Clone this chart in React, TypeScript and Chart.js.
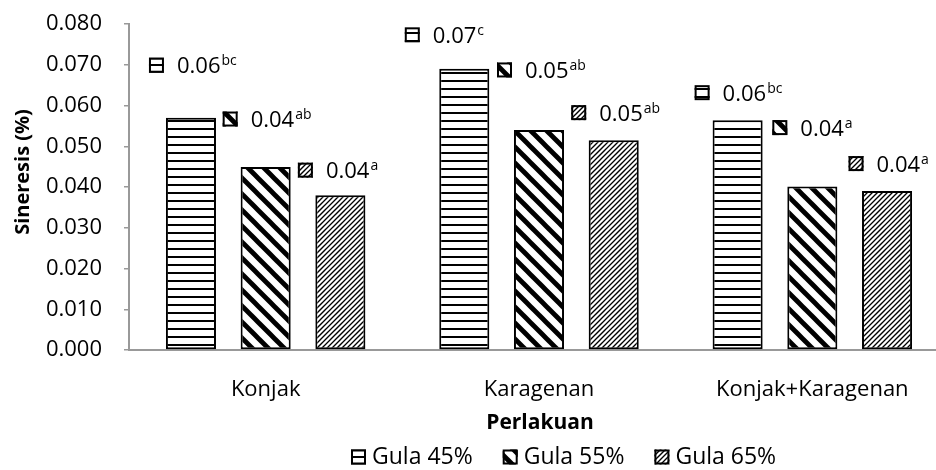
import React, { useEffect, useRef } from 'react';
import { Chart, registerables } from 'chart.js';

Chart.register(...registerables);

// ---- data ----
const categories = ['Konjak', 'Karagenan', 'Konjak+Karagenan'];
const seriesNames = ['Gula 45%', 'Gula 55%', 'Gula 65%'];
const gula45 = [0.057, 0.069, 0.0564];
const gula55 = [0.0449, 0.054, 0.0401];
const gula65 = [0.038, 0.0515, 0.039];
const letters45 = ['bc', 'c', 'bc'];
const letters55 = ['ab', 'ab', 'a'];
const letters65 = ['a', 'ab', 'a'];
const yMin = 0;
const yMax = 0.08;
const yStep = 0.01;
const xTitle = 'Perlakuan';
const yTitle = 'Sineresis (%)';

// ---- label placement (pixel nudges relative to each bar's top centre) ----
const labelNudges = [
  [[-34.5, -52.5], [-52, -34], [-35.5, -27.5]],
  [[-35.5, -48], [-34.5, -60], [-32.5, -59]],
  [[-35, -25], [-35, -27.5], [-31, -27.5]],
];

const FONT = "'Open Sans', sans-serif";
const CANVAS_W = 960;
const CANVAS_H = 470;

function makePattern(ctx: CanvasRenderingContext2D, kind: string): CanvasPattern {
  const c = document.createElement('canvas');
  const g = c.getContext('2d') as CanvasRenderingContext2D;
  if (kind === 'horz') {
    c.width = 8;
    c.height = 8;
    g.fillStyle = '#fff';
    g.fillRect(0, 0, 8, 8);
    g.fillStyle = '#000';
    g.fillRect(0, 0, 8, 2);
  } else {
    const p = kind === 'wdDown' ? 16 : 5;
    const T = kind === 'wdDown' ? 16 : 20;
    c.width = T;
    c.height = T;
    g.fillStyle = '#fff';
    g.fillRect(0, 0, T, T);
    g.strokeStyle = '#000';
    g.lineWidth = kind === 'wdDown' ? 4.8 : 1.3;
    g.lineCap = 'square';
    for (let o = -2 * T; o <= 2 * T; o += p) {
      g.beginPath();
      if (kind === 'wdDown') {
        g.moveTo(o, 0);
        g.lineTo(o + T, T);
      } else {
        g.moveTo(o, T);
        g.lineTo(o + T, 0);
      }
      g.stroke();
    }
  }
  return ctx.createPattern(c, 'repeat') as CanvasPattern;
}

function drawKey(ctx: CanvasRenderingContext2D, pat: CanvasPattern, cx: number, cy: number) {
  const s = 15;
  ctx.fillStyle = pat;
  ctx.fillRect(cx - s / 2, cy - s / 2, s, s);
  ctx.strokeStyle = '#000';
  ctx.lineWidth = 2;
  ctx.strokeRect(cx - s / 2 + 1, cy - s / 2 + 1, s - 2, s - 2);
}

export default function App() {
  const ref = useRef<HTMLCanvasElement | null>(null);

  useEffect(() => {
    const canvas = ref.current;
    if (!canvas) return;
    const ctx0 = canvas.getContext('2d') as CanvasRenderingContext2D;
    const patterns = [makePattern(ctx0, 'horz'), makePattern(ctx0, 'wdDown'), makePattern(ctx0, 'ltUp')];
    const values = [gula45, gula55, gula65];
    const letters = [letters45, letters55, letters65];

    const overlay = {
      id: 'overlay',
      afterDatasetsDraw(chart: any) {
        const ctx: CanvasRenderingContext2D = chart.ctx;
        ctx.save();
        // data labels with legend keys
        chart.data.datasets.forEach((_ds: any, i: number) => {
          const meta = chart.getDatasetMeta(i);
          meta.data.forEach((bar: any, j: number) => {
            const [dx, dy] = labelNudges[i][j];
            const cx = bar.x + dx;
            const cy = bar.y + dy;
            drawKey(ctx, patterns[i], cx, cy);
            const txt = values[i][j].toFixed(2);
            ctx.fillStyle = '#000';
            ctx.textAlign = 'left';
            ctx.textBaseline = 'alphabetic';
            ctx.font = `22px ${FONT}`;
            const tx = cx + 7.5 + 13;
            const base = cy + 8;
            ctx.fillText(txt, tx, base);
            const w = ctx.measureText(txt).width;
            ctx.font = `14px ${FONT}`;
            ctx.fillText(letters[i][j], tx + w + 1, base - 8);
          });
        });

        // y axis title
        ctx.save();
        ctx.translate(23, 172);
        ctx.rotate(-Math.PI / 2);
        ctx.font = `bold 20px ${FONT}`;
        ctx.fillStyle = '#000';
        ctx.textAlign = 'center';
        ctx.textBaseline = 'middle';
        ctx.fillText(yTitle, 0, 0);
        ctx.restore();

        // x axis title
        ctx.font = `bold 21px ${FONT}`;
        ctx.fillStyle = '#000';
        ctx.textAlign = 'center';
        ctx.textBaseline = 'middle';
        ctx.fillText(xTitle, 540, 423);

        // legend
        ctx.font = `23px ${FONT}`;
        ctx.textAlign = 'left';
        ctx.textBaseline = 'middle';
        let lx = 351;
        const ly = 457;
        seriesNames.forEach((name, i) => {
          drawKey(ctx, patterns[i], lx + 7.5, ly);
          ctx.fillStyle = '#000';
          ctx.fillText(name, lx + 15 + 6, ly);
          lx += 15 + 6 + ctx.measureText(name).width + 30;
        });
        ctx.restore();
      },
    };

    const chart = new Chart(canvas, {
      type: 'bar',
      data: {
        labels: categories,
        datasets: [gula45, gula55, gula65].map((d, i) => ({
          label: seriesNames[i],
          data: d,
          backgroundColor: patterns[i],
          borderColor: '#000',
          borderWidth: 2,
          borderSkipped: false,
          categoryPercentage: 0.82,
          barPercentage: 0.67,
        })),
      },
      options: {
        responsive: false,
        animation: false,
        devicePixelRatio: 1,
        events: [],
        layout: { padding: { left: 0, top: 24, right: CANVAS_W - 949, bottom: 0 } },
        plugins: {
          legend: { display: false },
          tooltip: { enabled: false },
          title: { display: false },
        },
        scales: {
          x: {
            grid: { display: false },
            border: { display: true, color: '#999', width: 2 },
            ticks: { color: '#000', font: { family: FONT, size: 22 }, padding: 19, maxRotation: 0 },
            afterFit(s: any) {
              s.height = 120;
            },
          },
          y: {
            min: yMin,
            max: yMax,
            ticks: {
              stepSize: yStep,
              color: '#000',
              font: { family: FONT, size: 22 },
              padding: 22,
              callback: (v: any) => Number(v).toFixed(3),
            },
            grid: { drawOnChartArea: false, drawTicks: true, tickLength: 5, color: '#999', lineWidth: 1.5 },
            border: { display: true, color: '#999', width: 2 },
            afterFit(s: any) {
              s.width = 129;
              s.paddingTop = 0;
              s.paddingBottom = 0;
            },
          },
        },
      },
      plugins: [overlay],
    } as any);

    return () => chart.destroy();
  }, []);

  return (
    <div style={{ position: 'fixed', left: 0, top: 0, width: 936, height: 470, overflow: 'hidden', background: '#fff' }}>
      <canvas ref={ref} width={CANVAS_W} height={CANVAS_H} style={{ display: 'block', width: CANVAS_W, height: CANVAS_H }} />
    </div>
  );
}
